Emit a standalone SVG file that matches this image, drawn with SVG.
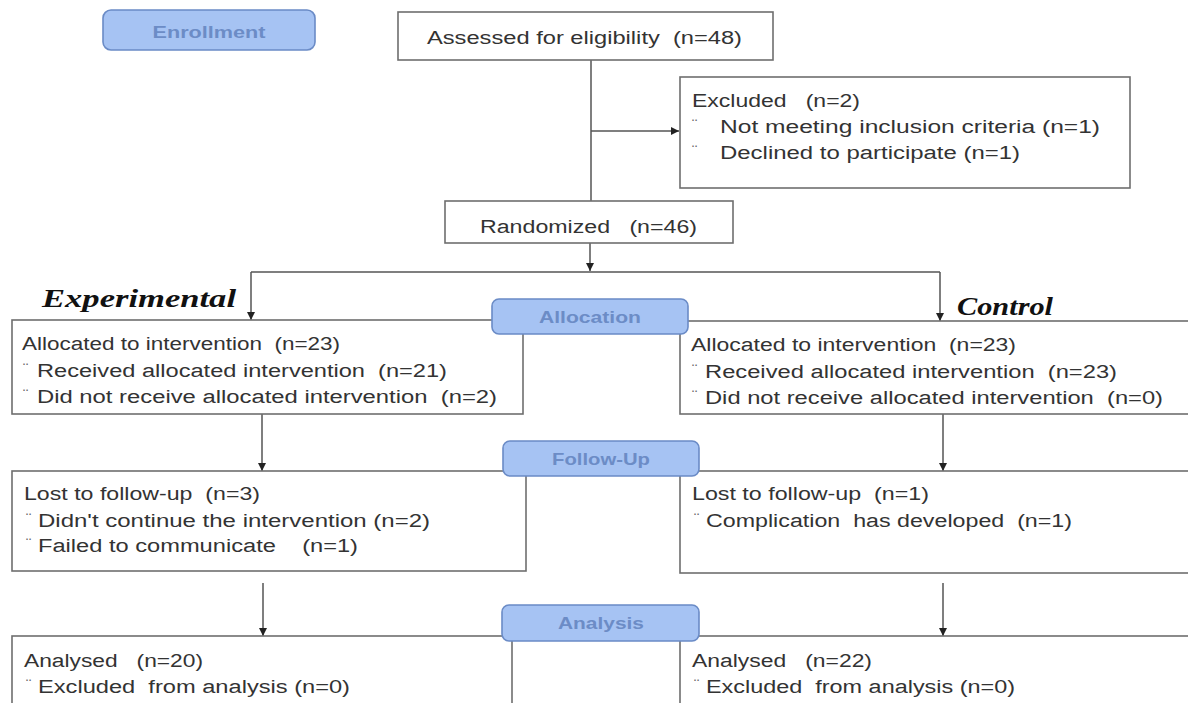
<svg xmlns="http://www.w3.org/2000/svg" width="1188" height="703" viewBox="0 0 1188 703" xml:space="preserve">
<defs>
<marker id="ah" viewBox="0 0 10 10" refX="10" refY="5" markerWidth="8" markerHeight="8" markerUnits="userSpaceOnUse" orient="auto">
<path d="M0,0 L10,5 L0,10 z" fill="#222"/>
</marker>
<style>
.box{fill:#fff;stroke:#6e6e6e;stroke-width:1.6}
.pill{fill:#a6c3f3;stroke:#6a8bc6;stroke-width:1.6}
.pt{font-family:"Liberation Sans",Arial,sans-serif;font-weight:bold;font-size:17px;fill:#6c8cc6;text-anchor:middle}
.t{font-family:"Liberation Sans",Arial,sans-serif;font-size:18px;fill:#333;white-space:pre}
.b{font-family:"Liberation Sans",Arial,sans-serif;font-size:16px;fill:#666}
.hd{font-family:"Liberation Serif","Times New Roman",serif;font-weight:bold;font-style:italic;font-size:26px;fill:#111}
.ln{fill:none;stroke:#555;stroke-width:1.5}
</style>
</defs>
<rect width="1188" height="703" fill="#fff"/>

<g id="connectors">
<line class="ln" x1="591" y1="60" x2="591" y2="201"/>
<line class="ln" x1="591" y1="131" x2="679" y2="131" marker-end="url(#ah)"/>
<line class="ln" x1="590" y1="243" x2="590" y2="271" marker-end="url(#ah)"/>
<line class="ln" x1="251" y1="272" x2="940" y2="272"/>
<line class="ln" x1="251" y1="272" x2="251" y2="320" marker-end="url(#ah)"/>
<line class="ln" x1="940" y1="272" x2="940" y2="321" marker-end="url(#ah)"/>
<line class="ln" x1="262" y1="414" x2="262" y2="471" marker-end="url(#ah)"/>
<line class="ln" x1="943" y1="414" x2="943" y2="471" marker-end="url(#ah)"/>
<line class="ln" x1="263" y1="583" x2="263" y2="636" marker-end="url(#ah)"/>
<line class="ln" x1="943" y1="583" x2="943" y2="636" marker-end="url(#ah)"/>
</g>

<g id="enrollment">
<rect class="pill" x="103" y="10" width="212" height="40" rx="8"/>
<text class="pt" x="209" y="38" textLength="113" lengthAdjust="spacingAndGlyphs">Enrollment</text>
</g>

<g id="assessed">
<rect class="box" x="398" y="12" width="375" height="48"/>
<text class="t" x="427" y="44" textLength="315" lengthAdjust="spacingAndGlyphs">Assessed for eligibility  (n=48)</text>
</g>

<g id="excluded">
<rect class="box" x="680" y="77" width="450" height="111"/>
<text class="t" x="692" y="107" textLength="168" lengthAdjust="spacingAndGlyphs">Excluded   (n=2)</text>
<text class="b" x="692" y="131">¨</text>
<text class="t" x="720" y="133" textLength="380" lengthAdjust="spacingAndGlyphs">Not meeting inclusion criteria (n=1)</text>
<text class="b" x="692" y="157">¨</text>
<text class="t" x="720" y="159" textLength="300" lengthAdjust="spacingAndGlyphs">Declined to participate (n=1)</text>
</g>

<g id="randomized">
<rect class="box" x="445" y="201" width="288" height="42"/>
<text class="t" x="480" y="233" textLength="217" lengthAdjust="spacingAndGlyphs">Randomized   (n=46)</text>
</g>

<g id="labels">
<text class="hd" x="42" y="307" textLength="194" lengthAdjust="spacingAndGlyphs">Experimental</text>
<text class="hd" x="957" y="315" textLength="96" lengthAdjust="spacingAndGlyphs">Control</text>
</g>

<g id="alloc-exp">
<rect class="box" x="12" y="320" width="511" height="94"/>
<text class="t" x="22" y="350" textLength="318" lengthAdjust="spacingAndGlyphs">Allocated to intervention  (n=23)</text>
<text class="b" x="23" y="375">¨</text>
<text class="t" x="37" y="377" textLength="410" lengthAdjust="spacingAndGlyphs">Received allocated intervention  (n=21)</text>
<text class="b" x="23" y="401">¨</text>
<text class="t" x="37" y="403" textLength="460" lengthAdjust="spacingAndGlyphs">Did not receive allocated intervention  (n=2)</text>
</g>

<g id="alloc-ctrl">
<rect class="box" x="680" y="321" width="520" height="93"/>
<text class="t" x="691" y="351" textLength="325" lengthAdjust="spacingAndGlyphs">Allocated to intervention  (n=23)</text>
<text class="b" x="692" y="376">¨</text>
<text class="t" x="705" y="378" textLength="412" lengthAdjust="spacingAndGlyphs">Received allocated intervention  (n=23)</text>
<text class="b" x="692" y="402">¨</text>
<text class="t" x="705" y="404" textLength="458" lengthAdjust="spacingAndGlyphs">Did not receive allocated intervention  (n=0)</text>
</g>

<g id="allocation">
<rect class="pill" x="492" y="299" width="196" height="35" rx="7"/>
<text class="pt" x="590" y="323" textLength="102" lengthAdjust="spacingAndGlyphs">Allocation</text>
</g>

<g id="lost-exp">
<rect class="box" x="12" y="471" width="514" height="100"/>
<text class="t" x="24" y="500" textLength="236" lengthAdjust="spacingAndGlyphs">Lost to follow-up  (n=3)</text>
<text class="b" x="26" y="525">¨</text>
<text class="t" x="38" y="527" textLength="392" lengthAdjust="spacingAndGlyphs">Didn't continue the intervention (n=2)</text>
<text class="b" x="26" y="550">¨</text>
<text class="t" x="38" y="552" textLength="320" lengthAdjust="spacingAndGlyphs">Failed to communicate    (n=1)</text>
</g>

<g id="lost-ctrl">
<rect class="box" x="680" y="471" width="520" height="102"/>
<text class="t" x="692" y="500" textLength="237" lengthAdjust="spacingAndGlyphs">Lost to follow-up  (n=1)</text>
<text class="b" x="694" y="525">¨</text>
<text class="t" x="706" y="527" textLength="366" lengthAdjust="spacingAndGlyphs">Complication  has developed  (n=1)</text>
</g>

<g id="followup">
<rect class="pill" x="503" y="441" width="196" height="35" rx="7"/>
<text class="pt" x="601" y="465" textLength="98" lengthAdjust="spacingAndGlyphs">Follow-Up</text>
</g>

<g id="analysed-exp">
<rect class="box" x="12" y="636" width="500" height="90"/>
<text class="t" x="24" y="667" textLength="179" lengthAdjust="spacingAndGlyphs">Analysed   (n=20)</text>
<text class="b" x="26" y="691">¨</text>
<text class="t" x="38" y="693" textLength="312" lengthAdjust="spacingAndGlyphs">Excluded  from analysis (n=0)</text>
</g>

<g id="analysed-ctrl">
<rect class="box" x="680" y="636" width="520" height="90"/>
<text class="t" x="692" y="667" textLength="180" lengthAdjust="spacingAndGlyphs">Analysed   (n=22)</text>
<text class="b" x="694" y="691">¨</text>
<text class="t" x="706" y="693" textLength="309" lengthAdjust="spacingAndGlyphs">Excluded  from analysis (n=0)</text>
</g>

<g id="analysis">
<rect class="pill" x="502" y="605" width="197" height="36" rx="7"/>
<text class="pt" x="601" y="629" textLength="86" lengthAdjust="spacingAndGlyphs">Analysis</text>
</g>
</svg>
